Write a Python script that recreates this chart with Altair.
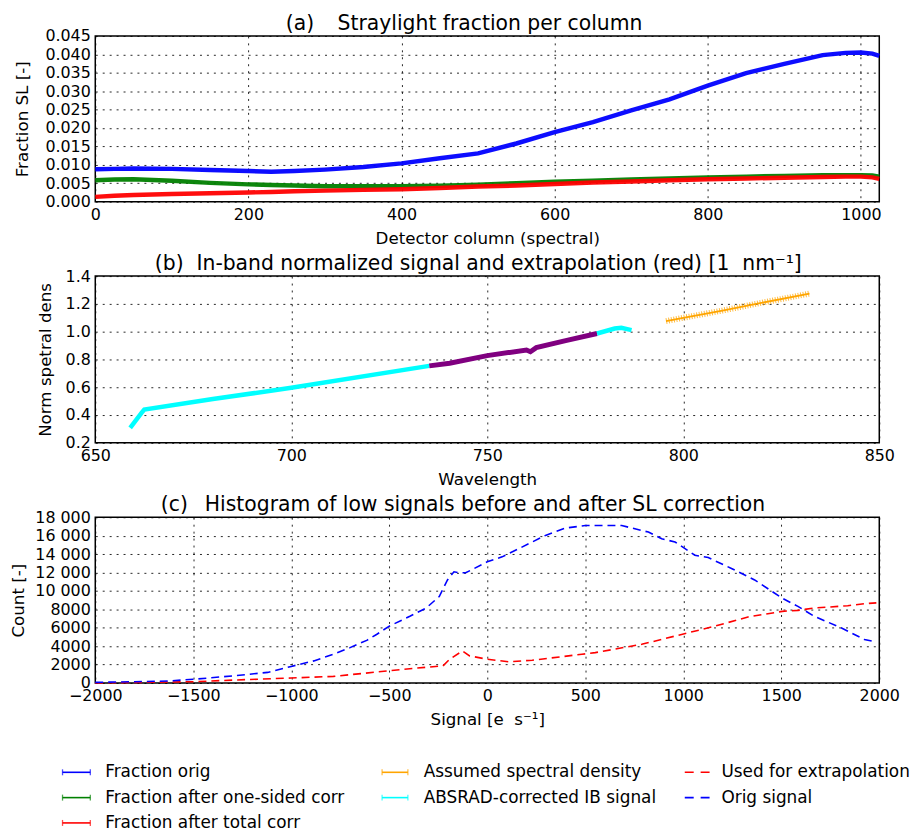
import altair as alt
import pandas as pd

FONT = "DejaVu Sans"
NB = "\u00a0"
TH = "\u2009"

# ---------------- Panel (a): straylight fraction per column ----------------
col_a = [0, 25, 50, 100, 150, 200, 230, 260, 300, 350, 400, 450, 500, 550, 600,
         650, 700, 750, 800, 850, 900, 950, 980, 1000, 1015, 1024]
frac_orig = [0.0088, 0.0089, 0.0090, 0.0089, 0.0086, 0.0083, 0.0081, 0.0083, 0.0087,
             0.0094, 0.0104, 0.0118, 0.0131, 0.0158, 0.0189, 0.0216, 0.0248, 0.0278,
             0.0315, 0.0349, 0.0374, 0.0398, 0.0404, 0.0405, 0.0402, 0.0396]
frac_one = [0.0058, 0.0060, 0.0061, 0.0057, 0.0051, 0.0047, 0.0045, 0.0044, 0.0042,
            0.0042, 0.0042, 0.0043, 0.0046, 0.0050, 0.0054, 0.0057, 0.0060, 0.0063,
            0.0066, 0.0068, 0.0070, 0.0072, 0.0072, 0.0072, 0.0071, 0.0068]
frac_total = [0.0013, 0.0016, 0.0018, 0.0021, 0.0023, 0.0025, 0.0026, 0.0028, 0.0030,
              0.0032, 0.0034, 0.0037, 0.0041, 0.0044, 0.0048, 0.0052, 0.0055, 0.0058,
              0.0061, 0.0063, 0.0065, 0.0067, 0.0068, 0.0068, 0.0066, 0.0062]

# ---------------- Panel (b): in-band normalized signal ----------------
wl_cyan1 = [658.9, 661.8, 662.5, 680.0, 700.0, 735.2]
nd_cyan1 = [0.307, 0.415, 0.439, 0.515, 0.596, 0.754]
wl_purple = [735.2, 740.4, 750.0, 760.0, 761.0, 762.5, 770.0, 778.0]
nd_purple = [0.754, 0.773, 0.828, 0.868, 0.856, 0.885, 0.935, 0.987]
wl_cyan2 = [778.0, 782.5, 784.2, 786.8]
nd_cyan2 = [0.987, 1.023, 1.028, 1.011]
wl_orange = [795.6, 800.0, 810.0, 818.9, 832.2]
nd_orange = [1.076, 1.100, 1.152, 1.202, 1.274]

# ---------------- Panel (c): histogram of low signals ----------------
sig_orig = [-2000, -1800, -1630, -1500, -1290, -1120, -1000, -885, -785, -700, -615,
            -565, -500, -395, -312, -245, -203, -170, -143, -110, -76, 0, 76, 161,
            297, 398, 500, 619, 686, 822, 890, 958, 1009, 1059, 1127, 1246, 1364,
            1505, 1585, 1669, 1805, 1924, 1985]
cnt_orig = [70, 140, 215, 400, 790, 1150, 1800, 2400, 3120, 3840, 4630, 5270, 6170,
            7240, 8140, 9390, 11190, 12080, 11970, 11980, 12330, 13160, 13700, 14590,
            16030, 16820, 17100, 17100, 17100, 16390, 15670, 15310, 14590, 13880,
            13620, 12440, 11190, 9210, 8320, 7240, 5990, 4730, 4450]
sig_extr = [-2000, -1500, -1290, -1000, -785, -500, -362, -226, -192, -127, -90, 0,
            110, 229, 483, 551, 788, 991, 1161, 1330, 1505, 1585, 1669, 1839, 1924, 1985]
cnt_extr = [0, 140, 320, 540, 720, 1330, 1610, 1860, 2580, 3480, 2940, 2580, 2300,
            2470, 3120, 3300, 4200, 5270, 6170, 7170, 7780, 7890, 8140, 8390, 8610, 8700]

# ---------------- Titles & legend ----------------
title_a = "(a)" + NB * 3 + TH + "Straylight fraction per column"
title_b = "(b)" + NB * 2 + "In-band normalized signal and extrapolation (red) [1" + NB * 2 + "nm⁻¹]"
title_c = "(c)" + NB * 2 + TH + "Histogram of low signals before and after SL correction"

legend_labels = ["Fraction orig", "Fraction after one-sided corr", "Fraction after total corr",
                 "Assumed spectral density", "ABSRAD-corrected IB signal",
                 "Used for extrapolation", "Orig signal"]
legend_colors = ["#0000ff", "#008000", "#ff0000", "#ffa500", "#00ffff", "#ff0000", "#0000ff"]
legend_col = [0, 0, 0, 1, 1, 2, 2]
legend_row = [0, 1, 2, 0, 1, 0, 1]
legend_dashed = [False, False, False, False, False, True, True]

W = 790
GRID = dict(grid=True, gridColor="black", gridDash=[2, 5], gridOpacity=0.85, gridWidth=1)


def title_mark(text, x_left):
    return alt.Chart(pd.DataFrame({"t": [text]})).mark_text(
        align="left", baseline="alphabetic", fontSize=20.5, font=FONT, color="black"
    ).encode(x=alt.value(x_left), y=alt.value(-6), text="t:N")


# Panel a
def a_line(vals, color):
    df = pd.DataFrame({"col": col_a, "v": vals})
    return alt.Chart(df).mark_line(color=color, strokeWidth=4.5, opacity=0.95).encode(
        x=alt.X("col:Q", scale=alt.Scale(domain=[0, 1024], nice=False, zero=False),
                axis=alt.Axis(values=[0, 200, 400, 600, 800, 1000], format="d",
                              title="Detector column (spectral)", labelFlush=False,
                              titlePadding=8, **GRID)),
        y=alt.Y("v:Q", scale=alt.Scale(domain=[0, 0.045], nice=False),
                axis=alt.Axis(values=[round(i * 0.005, 3) for i in range(10)], format=".3f",
                              title="Fraction SL [-]", titlePadding=13, **GRID)),
    )

panel_a = alt.layer(
    a_line(frac_orig, "#0000ff"),
    a_line(frac_one, "#008000"),
    a_line(frac_total, "#ff0000"),
    title_mark(title_a, 192),
).properties(width=W, height=167)


# Panel b
def b_line(wl, nd, color, width, dash=None, opacity=1.0):
    df = pd.DataFrame({"wl": wl, "nd": nd})
    kw = dict(color=color, strokeWidth=width, opacity=opacity)
    if dash:
        kw["strokeDash"] = dash
    return alt.Chart(df).mark_line(**kw).encode(
        x=alt.X("wl:Q", scale=alt.Scale(domain=[650, 850], nice=False, zero=False),
                axis=alt.Axis(values=[650, 700, 750, 800, 850], format="d",
                              title="Wavelength", labelFlush=False, titlePadding=8, **GRID)),
        y=alt.Y("nd:Q", scale=alt.Scale(domain=[0.2, 1.4], nice=False, zero=False),
                axis=alt.Axis(values=[0.2, 0.4, 0.6, 0.8, 1.0, 1.2, 1.4], format=".1f",
                              title="Norm spetral dens", titlePadding=11, **GRID)),
    )

panel_b = alt.layer(
    b_line(wl_cyan1, nd_cyan1, "#00ffff", 4.5),
    b_line(wl_purple, nd_purple, "#800080", 5),
    b_line(wl_cyan2, nd_cyan2, "#00ffff", 4.5),
    b_line(wl_orange, nd_orange, "#ffa500", 6, dash=[1, 1.6], opacity=0.75),
    b_line(wl_orange, nd_orange, "#ffa500", 1.8),
    title_mark(title_b, 60),
).properties(width=W, height=168)


# Panel c
def c_line(sig, cnt, color):
    df = pd.DataFrame({"s": sig, "c": cnt})
    return alt.Chart(df).mark_line(color=color, strokeWidth=1.6, strokeDash=[8, 5]).encode(
        x=alt.X("s:Q", scale=alt.Scale(domain=[-2000, 2000], nice=False, zero=False),
                axis=alt.Axis(values=list(range(-2000, 2001, 500)), format="d",
                              title="Signal [e" + NB * 2 + "s⁻¹]", labelFlush=False,
                              titlePadding=8, **GRID)),
        y=alt.Y("c:Q", scale=alt.Scale(domain=[0, 18000], nice=False),
                axis=alt.Axis(values=list(range(0, 18001, 2000)),
                              labelExpr="datum.value >= 10000 ? replace(format(datum.value, ','), ',', ' ') : format(datum.value, 'd')",
                              title="Count [-]", titlePadding=7, **GRID)),
    )

panel_c = alt.layer(
    c_line(sig_extr, cnt_extr, "#ff0000"),
    c_line(sig_orig, cnt_orig, "#0000ff"),
    title_mark(title_c, 66),
).properties(width=W, height=167)

# Legend (built from layers)
leg_df = pd.DataFrame({"label": legend_labels, "color": legend_colors, "col": legend_col,
                       "row": legend_row, "dashed": legend_dashed})
sym_start = [-33, 289, 594]
sym_end = [-5, 315, 619]
text_x = [10, 331, 631]

yenc = alt.Y("row:Q", scale=alt.Scale(domain=[0, 2], range=[15, 66]), axis=None)
cenc = alt.Color("label:N", scale=alt.Scale(domain=legend_labels, range=legend_colors), legend=None)
layers = []
for c in range(3):
    sub = leg_df[leg_df["col"] == c]
    solid = sub[~sub["dashed"]]
    dashed = sub[sub["dashed"]]
    if len(solid):
        base = alt.Chart(solid)
        layers.append(base.mark_rule(strokeWidth=1.6).encode(
            x=alt.value(sym_start[c]), x2=alt.value(sym_end[c]), y=yenc, color=cenc))
        for xv in (sym_start[c], sym_end[c]):
            layers.append(base.mark_tick(orient="vertical", size=6, thickness=1.3).encode(
                x=alt.value(xv), y=yenc, color=cenc))
    if len(dashed):
        layers.append(alt.Chart(dashed).mark_rule(strokeWidth=1.6, strokeDash=[9, 7]).encode(
            x=alt.value(sym_start[c]), x2=alt.value(sym_end[c]), y=yenc, color=cenc))
    layers.append(alt.Chart(sub).mark_text(align="left", baseline="middle", fontSize=17,
                                           font=FONT, color="black").encode(
        x=alt.value(text_x[c]), y=yenc, text="label:N"))

legend = alt.layer(*layers).properties(width=W, height=70,
                                       view=alt.ViewBackground(stroke="transparent"))

chart = alt.vconcat(panel_a, panel_b, panel_c, legend, spacing=75, bounds="flush").properties(
    padding={"left": 10, "top": 10, "right": 5, "bottom": 5}
).configure(font=FONT, background="white").configure_axis(
    domain=False, ticks=False, labelFontSize=16, titleFontSize=16.8, titleFontWeight="normal",
    labelColor="black", titleColor="black", labelPadding=5, labelFont=FONT, titleFont=FONT
).configure_view(stroke="black", strokeWidth=1.5)

chart.save("out.html", embed_options={"renderer": "svg", "actions": False})
